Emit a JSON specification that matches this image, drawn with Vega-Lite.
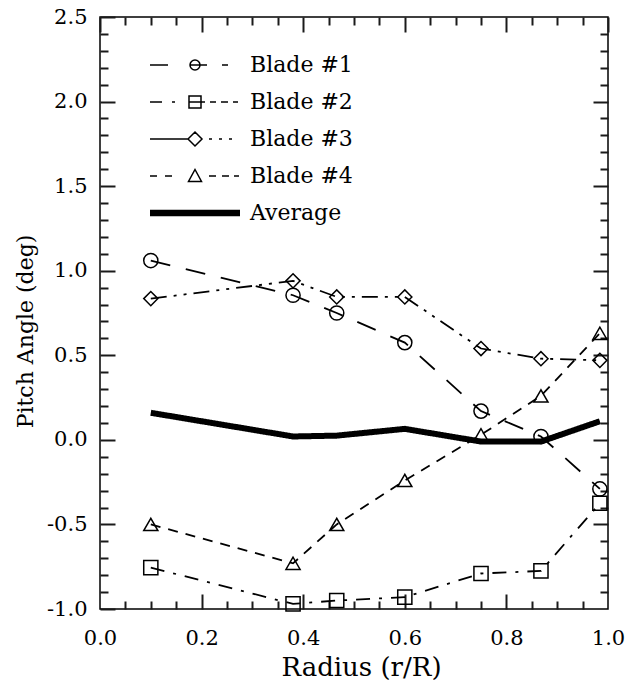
{
  "$schema": "https://vega.github.io/schema/vega-lite/v6.json",
  "width": 508,
  "height": 592,
  "autosize": "none",
  "padding": {"left": 100, "top": 17, "right": 18, "bottom": 81},
  "background": "white",
  "config": {
    "font": "DejaVu Serif",
    "view": {"stroke": "black", "strokeWidth": 1.5, "fill": null},
    "axis": {
      "labelFont": "DejaVu Serif",
      "titleFont": "DejaVu Serif",
      "labelColor": "black",
      "titleColor": "black",
      "domain": false,
      "labelFontSize": 21,
      "titleFontSize": 23,
      "titleFontWeight": "normal",
      "labelFlush": false,
      "labelOverlap": false
    }
  },
  "data": {
    "values": [
      {"series": "Blade #1", "r": 0.1, "pitch": 1.06},
      {"series": "Blade #1", "r": 0.38, "pitch": 0.855},
      {"series": "Blade #1", "r": 0.466, "pitch": 0.75},
      {"series": "Blade #1", "r": 0.6, "pitch": 0.575},
      {"series": "Blade #1", "r": 0.75, "pitch": 0.17},
      {"series": "Blade #1", "r": 0.868, "pitch": 0.02},
      {"series": "Blade #1", "r": 0.984, "pitch": -0.29},
      {"series": "Blade #2", "r": 0.1, "pitch": -0.755},
      {"series": "Blade #2", "r": 0.38, "pitch": -0.97},
      {"series": "Blade #2", "r": 0.466, "pitch": -0.95},
      {"series": "Blade #2", "r": 0.6, "pitch": -0.93},
      {"series": "Blade #2", "r": 0.75, "pitch": -0.79},
      {"series": "Blade #2", "r": 0.868, "pitch": -0.775},
      {"series": "Blade #2", "r": 0.984, "pitch": -0.375},
      {"series": "Blade #3", "r": 0.1, "pitch": 0.835},
      {"series": "Blade #3", "r": 0.38, "pitch": 0.94},
      {"series": "Blade #3", "r": 0.466, "pitch": 0.845},
      {"series": "Blade #3", "r": 0.6, "pitch": 0.845},
      {"series": "Blade #3", "r": 0.75, "pitch": 0.54},
      {"series": "Blade #3", "r": 0.868, "pitch": 0.48},
      {"series": "Blade #3", "r": 0.984, "pitch": 0.47},
      {"series": "Blade #4", "r": 0.1, "pitch": -0.5},
      {"series": "Blade #4", "r": 0.38, "pitch": -0.73},
      {"series": "Blade #4", "r": 0.466, "pitch": -0.5},
      {"series": "Blade #4", "r": 0.6, "pitch": -0.24},
      {"series": "Blade #4", "r": 0.75, "pitch": 0.03},
      {"series": "Blade #4", "r": 0.868, "pitch": 0.26},
      {"series": "Blade #4", "r": 0.984, "pitch": 0.63},
      {"series": "Average", "r": 0.1, "pitch": 0.16},
      {"series": "Average", "r": 0.38, "pitch": 0.02},
      {"series": "Average", "r": 0.466, "pitch": 0.025},
      {"series": "Average", "r": 0.6, "pitch": 0.065},
      {"series": "Average", "r": 0.75, "pitch": -0.01},
      {"series": "Average", "r": 0.868, "pitch": -0.01},
      {"series": "Average", "r": 0.984, "pitch": 0.11}
    ]
  },
  "resolve": {"axis": {"x": "independent", "y": "independent"}, "scale": {"shape": "independent"}},
  "layer": [
    {
      "mark": {"type": "line", "color": "black"},
      "encoding": {
        "x": {
          "field": "r", "type": "quantitative",
          "scale": {"domain": [0, 1], "nice": false, "zero": false},
          "axis": {"orient": "bottom", "values": [0, 0.2, 0.4, 0.6, 0.8, 1], "format": ".1f", "ticks": false, "grid": true, "gridColor": "#1a1a1a", "gridWidth": 2, "gridDash": [15, 3000], "labelPadding": 18, "title": "Radius (r/R)", "titleFontSize": 26, "titlePadding": 6, "titleX": 261}
        },
        "y": {
          "field": "pitch", "type": "quantitative",
          "scale": {"domain": [-1, 2.5], "nice": false, "zero": false},
          "axis": {"orient": "left", "values": [-1, -0.5, 0, 0.5, 1, 1.5, 2, 2.5], "labelExpr": "replace(format(datum.value, '.1f'), '\u2212', '-')", "labelBaseline": "middle", "ticks": false, "grid": true, "gridColor": "#1a1a1a", "gridWidth": 2, "gridDash": [15, 3000], "labelPadding": 13, "title": "Pitch Angle (deg)", "titlePadding": 9, "titleFontSize": 22, "titleY": 314}
        },
        "strokeDash": {
          "field": "series", "type": "nominal",
          "scale": {"domain": ["Blade #1", "Blade #2", "Blade #3", "Blade #4", "Average"], "range": [[20, 16], [14, 9, 3, 9], [16, 7, 3, 7, 3, 7], [10, 8], [1, 0]]},
          "legend": null
        },
        "strokeWidth": {"condition": {"test": "datum.series === 'Average'", "value": 6}, "value": 1.8}
      }
    },
    {
      "transform": [{"filter": "datum.series !== 'Average'"}],
      "mark": {"type": "point", "filled": false, "strokeWidth": 1.5, "color": "black", "size": 200, "opacity": 1},
      "encoding": {
        "x": {"field": "r", "type": "quantitative", "axis": {"orient": "top", "values": [0.2, 0.4, 0.6, 0.8], "ticks": false, "grid": true, "gridColor": "#1a1a1a", "gridWidth": 2, "gridDash": [15, 3000], "labels": false, "title": null}},
        "y": {"field": "pitch", "type": "quantitative", "axis": {"orient": "right", "values": [-0.5, 0, 0.5, 1, 1.5, 2], "ticks": false, "grid": true, "gridColor": "#1a1a1a", "gridWidth": 2, "gridDash": [15, 3000], "labels": false, "title": null}},
        "shape": {"field": "series", "type": "nominal", "scale": {"domain": ["Blade #1", "Blade #2", "Blade #3", "Blade #4"], "range": ["circle", "square", "diamond", "triangle-up"]}, "legend": null}
      }
    },
    {
      "mark": {"type": "point", "filled": false, "color": "black", "size": 0, "strokeWidth": 1.5},
      "encoding": {
        "x": {"field": "r", "type": "quantitative", "axis": {"orient": "bottom", "values": [0.05, 0.1, 0.15, 0.25, 0.3, 0.35, 0.45, 0.5, 0.55, 0.65, 0.7, 0.75, 0.85, 0.9, 0.95], "ticks": false, "grid": true, "gridColor": "#1a1a1a", "gridWidth": 2, "gridDash": [8, 3000], "labels": false, "title": null}},
        "y": {"field": "pitch", "type": "quantitative", "axis": {"orient": "left", "values": [-0.9, -0.8, -0.7, -0.6, -0.4, -0.3, -0.2, -0.1, 0.1, 0.2, 0.3, 0.4, 0.6, 0.7, 0.8, 0.9, 1.1, 1.2, 1.3, 1.4, 1.6, 1.7, 1.8, 1.9, 2.1, 2.2, 2.3, 2.4], "ticks": false, "grid": true, "gridColor": "#1a1a1a", "gridWidth": 2, "gridDash": [8, 3000], "labels": false, "title": null}},
        "shape": {
          "field": "series", "type": "nominal",
          "scale": {
            "domain": ["Blade #1", "Blade #2", "Blade #3", "Blade #4", "Average"],
            "range": [
              "M-9,0H-5.4M1,0A1,1 0 1,1 -1,0A1,1 0 1,1 1,0M-1,0H2.4M5.4,0H6.6",
              "M-9,0H-6.6M-4.6,0H-4M-1.2,-1.2H1.2V1.2H-1.2ZM-1.2,0H2M3,0H4.2M5.2,0H6.6M7.6,0H8.6",
              "M-9,0H-1.4M-1.4,0L0,-1.4L1.4,0L0,1.4ZM2.8,0H3.4M4.8,0H5.4M6.8,0H7.4",
              "M-9,0H-7.6M-6,0H-4.6M0,-1.3L1.3,1.1L-1.3,1.1ZM2.8,0H4.2M5.4,0H6.8M7.8,0H8.8",
              "M-9,-0.5H9M-9,-0.25H9M-9,0H9M-9,0.25H9M-9,0.5H9"
            ]
          },
          "legend": {
            "orient": "none", "legendX": 39, "legendY": 37, "title": null,
            "symbolSize": 100, "symbolOffset": 45, "labelOffset": 44,
            "symbolStrokeWidth": 1.5, "symbolStrokeColor": "black", "symbolFillColor": "transparent", "symbolOpacity": 1,
            "labelFontSize": 22, "labelFont": "DejaVu Serif", "labelColor": "black",
            "rowPadding": 15, "padding": 0
          }
        }
      }
    },
    {
      "transform": [{"filter": "datum.series === 'Average'"}],
      "mark": {"type": "point", "opacity": 0, "size": 1},
      "encoding": {
        "x": {"field": "r", "type": "quantitative", "axis": {"orient": "top", "values": [0.05, 0.1, 0.15, 0.25, 0.3, 0.35, 0.45, 0.5, 0.55, 0.65, 0.7, 0.75, 0.85, 0.9, 0.95], "ticks": false, "grid": true, "gridColor": "#1a1a1a", "gridWidth": 2, "gridDash": [8, 3000], "labels": false, "title": null}},
        "y": {"field": "pitch", "type": "quantitative", "axis": {"orient": "right", "values": [-0.9, -0.8, -0.7, -0.6, -0.4, -0.3, -0.2, -0.1, 0.1, 0.2, 0.3, 0.4, 0.6, 0.7, 0.8, 0.9, 1.1, 1.2, 1.3, 1.4, 1.6, 1.7, 1.8, 1.9, 2.1, 2.2, 2.3, 2.4], "ticks": false, "grid": true, "gridColor": "#1a1a1a", "gridWidth": 2, "gridDash": [8, 3000], "labels": false, "title": null}}
      }
    }
  ]
}
